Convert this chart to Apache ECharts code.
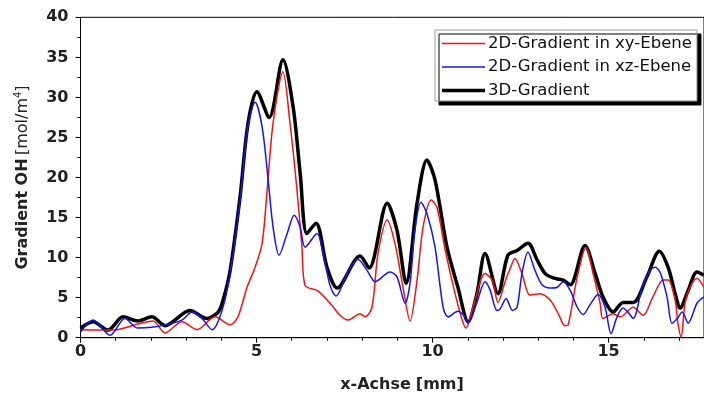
<!DOCTYPE html>
<html>
<head>
<meta charset="utf-8">
<script src="https://cdn.jsdelivr.net/npm/echarts@6/dist/echarts.min.js"></script>
<style>
html,body{margin:0;padding:0;background:#fff;}
#chart{width:704px;height:397px;}
</style>
</head>
<body>
<div id="chart"></div>
<script>
// Series names
const seriesNames = ['2D-Gradient in xy-Ebene', '2D-Gradient in xz-Ebene', '3D-Gradient'];
// x-axis ticks (mm) and y-axis ticks
const xTicks = [0, 5, 10, 15];
const yTicks = [0, 5, 10, 15, 20, 25, 30, 35, 40];

// [x (mm), gradient] pairs
const xyData = [
  [0,1.0],[0.92,0.95],[1.63,1.7],[2.06,2.1],[2.40,0.6],[2.88,2.0],[3.31,1.0],[3.82,2.6],[4.25,1.6],[4.47,2.6],
  [4.73,6.3],[4.96,8.8],[5.16,11.8],[5.30,18.4],[5.47,26.8],[5.75,33.2],[5.95,26.8],[6.15,18.4],[6.29,11.3],[6.38,6.5],
  [6.72,5.9],[7.09,4.3],[7.37,2.8],[7.60,2.2],[7.94,3.0],[8.08,2.6],[8.28,3.8],[8.45,10.5],[8.71,14.7],[8.93,11.8],
  [9.16,6.3],[9.36,2.1],[9.56,7.2],[9.73,13.8],[9.96,17.2],[10.13,16.2],[10.36,10.9],[10.64,5.5],[10.84,2.2],[10.95,1.2],
  [11.15,3.8],[11.49,8.0],[11.69,7.2],[11.86,4.4],[12.06,7.0],[12.20,8.6],[12.34,9.9],[12.54,8.0],[12.77,5.3],[13.05,5.5],
  [13.34,4.7],[13.57,3.0],[13.76,1.5],[13.85,1.6],[14.11,7.6],[14.36,11.3],[14.56,8.0],[14.76,4.3],[14.84,2.4],[15.13,3.0],
  [15.33,2.6],[15.70,3.8],[15.98,2.8],[16.26,5.1],[16.55,7.2],[16.69,7.2],[16.89,4.7],[16.97,1.8],[17.06,0.1],[17.17,4.3],
  [17.31,6.3],[17.51,7.4],[17.71,6.3]
];
const xzData = [
  [0,0.7],[0.36,2.2],[0.84,0.3],[1.26,2.4],[1.63,1.2],[2.03,1.3],[2.40,1.6],[2.88,2.2],[3.17,3.2],[3.45,2.4],
  [3.74,1.0],[4.02,3.4],[4.25,8.0],[4.53,17.0],[4.76,26.5],[4.96,29.4],[5.16,26.3],[5.33,19.7],[5.47,13.8],[5.64,10.3],
  [5.87,13.0],[6.07,15.3],[6.24,13.8],[6.38,11.3],[6.72,13.0],[6.89,10.5],[7.09,6.5],[7.26,5.2],[7.57,8.0],[7.88,9.8],
  [8.14,8.4],[8.37,7.0],[8.79,8.2],[8.99,7.6],[9.22,4.3],[9.36,6.8],[9.50,13.4],[9.67,16.9],[9.84,15.5],[10.07,11.3],
  [10.30,3.8],[10.44,2.6],[10.72,3.3],[10.92,2.6],[11.01,1.8],[11.26,4.4],[11.49,7.0],[11.63,6.0],[11.83,3.4],[11.92,3.6],
  [12.09,4.9],[12.27,3.4],[12.40,3.8],[12.54,8.0],[12.71,10.7],[12.91,8.4],[13.11,6.6],[13.34,6.2],[13.54,6.3],[13.71,7.0],
  [13.91,5.9],[14.11,3.8],[14.28,2.9],[14.47,4.1],[14.70,5.4],[14.90,3.8],[15.07,0.5],[15.24,2.6],[15.41,3.7],[15.55,3.2],
  [15.70,2.4],[15.95,6.2],[16.18,8.4],[16.32,8.8],[16.46,8.2],[16.66,5.1],[16.80,1.8],[16.95,2.4],[17.09,3.2],[17.26,1.8],
  [17.51,4.3],[17.71,5.1]
];
const d3Data = [
  [0,1.2],[0.36,2.0],[0.78,0.95],[1.21,2.6],[1.63,2.1],[2.03,2.6],[2.40,1.5],[3.11,3.4],[3.59,2.4],[3.91,3.2],
  [4.05,4.7],[4.25,8.4],[4.53,17.5],[4.76,26.8],[5.01,30.7],[5.36,27.5],[5.75,34.7],[6.04,28.8],[6.24,20.5],[6.43,13.0],
  [6.69,14.3],[7.0,8.8],[7.29,6.2],[7.94,10.2],[8.20,8.7],[8.71,16.8],[8.99,13.4],[9.25,6.8],[9.56,16.8],[9.84,22.2],
  [10.07,19.7],[10.41,11.3],[10.72,6.3],[11.01,2.0],[11.26,5.5],[11.49,10.5],[11.86,5.5],[12.14,10.3],[12.40,10.9],[12.71,11.8],
  [12.97,9.7],[13.20,8.0],[13.48,7.4],[13.71,7.2],[13.91,6.6],[14.33,11.5],[14.62,8.0],[14.84,5.1],[15.13,3.2],[15.41,4.4],
  [15.70,4.4],[16.09,7.6],[16.44,10.8],[16.69,8.8],[16.89,5.5],[17.03,3.7],[17.26,5.9],[17.51,8.2],[17.71,7.8]
];

const X_MAX = 17.71;
const FONT = 'DejaVu Sans';
const thinIcon = 'path://M0,0 M0,6.2H43V7.8H0Z M43,14';
const thickIcon = 'path://M0,0 M0,5.2H43V8.8H0Z M43,14';

const chart = echarts.init(document.getElementById('chart'), null, {renderer: 'canvas'});
chart.setOption({
  animation: false,
  backgroundColor: '#fff',
  title: {
    text: '{b|x-Achse} {n|[mm]}',
    left: 397, top: 371, textAlign: 'center',
    textStyle: {
      rich: {
        b: {fontFamily: FONT, fontSize: 16, fontWeight: 'bold', color: '#222'},
        n: {fontFamily: FONT, fontSize: 16, color: '#222'}
      }
    }
  },
  legend: {
    orient: 'vertical',
    left: 435, top: 30,
    padding: [5, 5, 2, 7],
    itemWidth: 43, itemHeight: 14, itemGap: 6.5,
    backgroundColor: '#fff',
    borderColor: '#999', borderWidth: 1, borderRadius: 0,
    shadowColor: '#000', shadowBlur: 0, shadowOffsetX: 4, shadowOffsetY: 4,
    textStyle: {fontFamily: FONT, fontSize: 16.5, color: '#111', padding: [0, 0, 0, -2]},
    data: [
      {name: seriesNames[0], icon: thinIcon},
      {name: seriesNames[1], icon: thinIcon},
      {name: seriesNames[2], icon: thickIcon}
    ]
  },
  grid: {
    left: 80.5, top: 17.3, bottom: 59.3, right: 0,
    show: true, borderColor: '#000', borderWidth: 1, backgroundColor: 'transparent'
  },
  xAxis: [
    {
      type: 'value', min: 0, max: X_MAX, interval: 1,
      axisLine: {onZero: false, lineStyle: {color: '#000', width: 1}},
      axisTick: {show: true, inside: false, length: 3, lineStyle: {color: '#000'}},
      splitLine: {show: false},
      axisLabel: {show: false}
    },
    {
      type: 'value', min: 0, max: X_MAX, interval: 5, position: 'bottom',
      axisLine: {show: false, onZero: false},
      axisTick: {show: true, inside: false, length: 5, lineStyle: {color: '#000'}},
      splitLine: {show: false},
      axisLabel: {
        fontFamily: FONT, fontSize: 16, fontWeight: 'bold', color: '#222', margin: 6,
        showMaxLabel: false,
        formatter: v => (xTicks.indexOf(v) >= 0 ? String(v) : '')
      }
    }
  ],
  yAxis: {
    type: 'value', min: 0, max: 40, interval: 5,
    name: '{b|Gradient OH} {n|[mol/m}{s|4}{n|]}',
    nameLocation: 'middle', nameGap: 49, nameRotate: 90,
    nameTextStyle: {
      rich: {
        b: {fontFamily: FONT, fontSize: 16, fontWeight: 'bold', color: '#222'},
        n: {fontFamily: FONT, fontSize: 16, color: '#222'},
        s: {fontFamily: FONT, fontSize: 10, color: '#222', verticalAlign: 'top', padding: [0, 0, 8, 0]}
      }
    },
    axisLine: {show: true, lineStyle: {color: '#000', width: 1}},
    axisTick: {show: true, inside: false, length: 5, lineStyle: {color: '#000'}},
    minorTick: {show: true, splitNumber: 2, length: 3, lineStyle: {color: '#000'}},
    splitLine: {show: false},
    axisLabel: {
      fontFamily: FONT, fontSize: 16, fontWeight: 'bold', color: '#222', margin: 12,
      formatter: v => (yTicks.indexOf(v) >= 0 ? String(v) : '')
    }
  },
  series: [
    {name: seriesNames[0], type: 'line', data: xyData, symbol: 'none', smooth: 0.3,
     lineStyle: {color: '#f01414', width: 1.5}, itemStyle: {color: '#f01414'}, z: 3},
    {name: seriesNames[1], type: 'line', data: xzData, symbol: 'none', smooth: 0.3,
     lineStyle: {color: '#1414f0', width: 1.5}, itemStyle: {color: '#1414f0'}, z: 4},
    {name: seriesNames[2], type: 'line', data: d3Data, symbol: 'none', smooth: 0.3,
     lineStyle: {color: '#000', width: 3.5}, itemStyle: {color: '#000'}, z: 2}
  ]
});
</script>
</body>
</html>
